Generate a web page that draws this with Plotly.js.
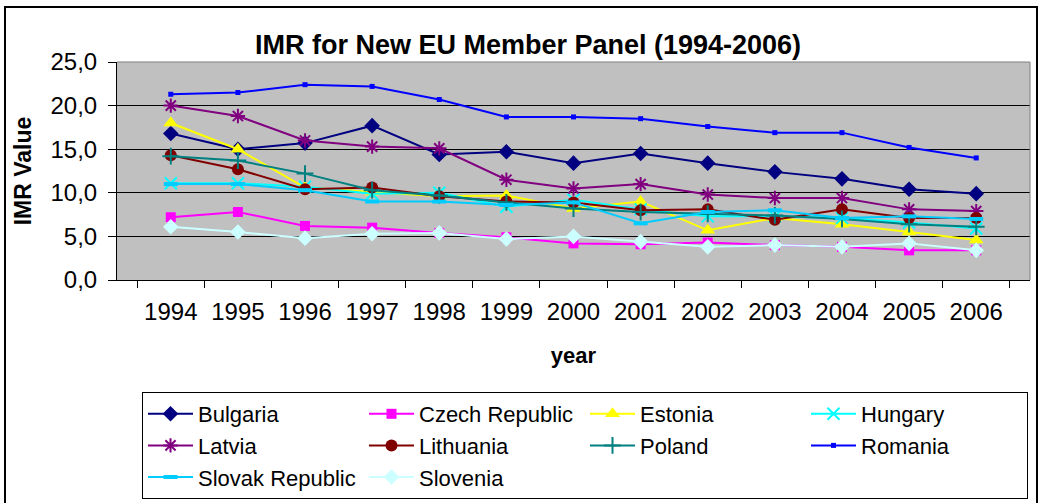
<!DOCTYPE html>
<html>
<head>
<meta charset="utf-8">
<script src="https://cdn.plot.ly/plotly-3.0.1.min.js"></script>
<style>html,body{margin:0;padding:0;background:#fff;}#chart{width:1040px;height:503px;}</style>
</head>
<body>
<div id="chart"></div>
<script>
const years = ['1994','1995','1996','1997','1998','1999','2000','2001','2002','2003','2004','2005','2006'];

const bulgaria = [16.8, 15.0, 15.7, 17.7, 14.4, 14.7, 13.4, 14.5, 13.4, 12.4, 11.6, 10.4, 9.9];
const czech    = [7.2, 7.8, 6.2, 6.0, 5.4, 4.9, 4.2, 4.1, 4.3, 4.0, 3.8, 3.4, 3.4];
const estonia  = [18.0, 15.0, 10.6, 10.1, 9.6, 9.7, 8.2, 9.0, 5.7, 7.1, 6.4, 5.5, 4.6];
const hungary  = [11.1, 11.1, 10.7, 9.9, 10.0, 8.4, 9.2, 8.1, 7.3, 7.3, 7.1, 6.6, 5.9];
const latvia   = [20.0, 18.8, 16.0, 15.3, 15.1, 11.5, 10.5, 11.0, 9.8, 9.4, 9.4, 8.1, 7.9];
const lithuania= [14.3, 12.7, 10.4, 10.6, 9.6, 9.0, 8.9, 8.0, 8.1, 6.9, 8.1, 7.1, 7.1];
const poland   = [14.2, 13.7, 12.2, 10.3, 9.7, 8.9, 8.2, 7.8, 7.6, 7.4, 7.0, 6.4, 6.1];
const romania  = [21.3, 21.5, 22.4, 22.2, 20.7, 18.7, 18.7, 18.5, 17.6, 16.9, 16.9, 15.2, 14.0];
const slovak   = [11.0, 11.0, 10.3, 9.0, 9.0, 8.6, 8.9, 6.5, 7.8, 8.0, 7.1, 7.3, 7.0];
const slovenia = [6.1, 5.5, 4.8, 5.3, 5.4, 4.7, 5.0, 4.4, 3.8, 4.0, 3.8, 4.2, 3.4];

const FONT = 'Liberation Sans, Arial, sans-serif';

function tr(name, y, color, symbol, size, extra) {
  const t = {
    x: years, y: y, name: name, type: 'scatter', mode: 'lines+markers',
    line: {color: color, width: 2},
    marker: {color: color, symbol: symbol, size: size, line: {color: color, width: 0}}
  };
  if (extra) Object.assign(t.marker, extra);
  return t;
}

const data = [
  tr('Bulgaria', bulgaria, '#000080', 'diamond', 12),
  tr('Czech Republic', czech, '#FF00FF', 'square', 10),
  tr('Estonia', estonia, '#FFFF00', 'triangle-up', 13),
  tr('Hungary', hungary, '#00FFFF', 'x-thin-open', 12, {line: {color: '#00FFFF', width: 2}}),
  tr('Latvia', latvia, '#800080', 'asterisk-open', 12, {line: {color: '#800080', width: 2}}),
  tr('Lithuania', lithuania, '#800000', 'circle', 12),
  tr('Poland', poland, '#008080', 'cross-thin-open', 12, {line: {color: '#008080', width: 2}}),
  tr('Romania', romania, '#0000FF', 'square', 5),
  tr('Slovak Republic', slovak, '#00CCFF', 'line-ew-open', 10, {line: {color: '#00CCFF', width: 4}}),
  tr('Slovenia', slovenia, '#CCFFFF', 'diamond', 12)
];

const layout = {
  width: 1040, height: 503,
  margin: {l: 117, r: 10, t: 62, b: 223, pad: 0},
  paper_bgcolor: '#FFFFFF',
  plot_bgcolor: '#C0C0C0',
  separators: ',.',
  font: {family: FONT, color: '#000000', size: 22},
  title: {
    text: '<b>IMR for New EU Member Panel (1994-2006)</b>',
    font: {family: FONT, size: 27, color: '#000000'},
    x: 528/1040, xref: 'container', xanchor: 'center',
    y: 1 - 45/503, yref: 'container', yanchor: 'middle'
  },
  xaxis: {
    type: 'category',
    tickson: 'boundaries',
    ticks: 'outside', ticklen: 7, tickwidth: 1, tickcolor: '#000000',
    showline: true, linecolor: '#000000', linewidth: 1,
    showgrid: false, zeroline: false,
    tickfont: {family: FONT, size: 24, color: '#000000'},
    ticklabelstandoff: 10,
    title: {text: '<b>year</b>', font: {family: FONT, size: 22, color: '#000000'}, standoff: 23}
  },
  yaxis: {
    range: [0, 25], dtick: 5, tick0: 0,
    tickformat: '.1f',
    ticks: 'outside', ticklen: 8, tickwidth: 1, tickcolor: '#000000',
    showline: true, linecolor: '#000000', linewidth: 1,
    showgrid: true, gridcolor: '#000000', gridwidth: 1,
    zeroline: false,
    tickfont: {family: FONT, size: 24, color: '#000000'},
    ticklabelstandoff: 6,
    title: {text: '<b>IMR Value</b>', font: {family: FONT, size: 23, color: '#000000'}, standoff: 12}
  },
  showlegend: true,
  legend: {
    orientation: 'h',
    xref: 'container', yref: 'container',
    x: 142/1040, xanchor: 'left',
    y: 1 - 392/503, yanchor: 'top',
    bgcolor: '#FFFFFF', bordercolor: '#000000', borderwidth: 1,
    font: {family: FONT, size: 22, color: '#000000'},
    entrywidth: 161, entrywidthmode: 'pixels',
    itemwidth: 45,
    traceorder: 'normal'
  },
  shapes: [
    {type: 'rect', xref: 'paper', yref: 'paper', x0: (5-117)/913, x1: (1037-117)/913, y0: (280-520)/218, y1: (280-7)/218,
     line: {color: '#000000', width: 2}, fillcolor: 'rgba(0,0,0,0)', layer: 'below'},
    {type: 'line', xref: 'paper', yref: 'paper', x0: 0, x1: 1, y0: 1, y1: 1, line: {color: '#808080', width: 1}, layer: 'above'},
    {type: 'line', xref: 'paper', yref: 'paper', x0: 1, x1: 1, y0: 0, y1: 1, line: {color: '#808080', width: 1}, layer: 'above'}
  ]
};

Plotly.newPlot('chart', data, layout, {displayModeBar: false, staticPlot: true});
</script>
</body>
</html>
